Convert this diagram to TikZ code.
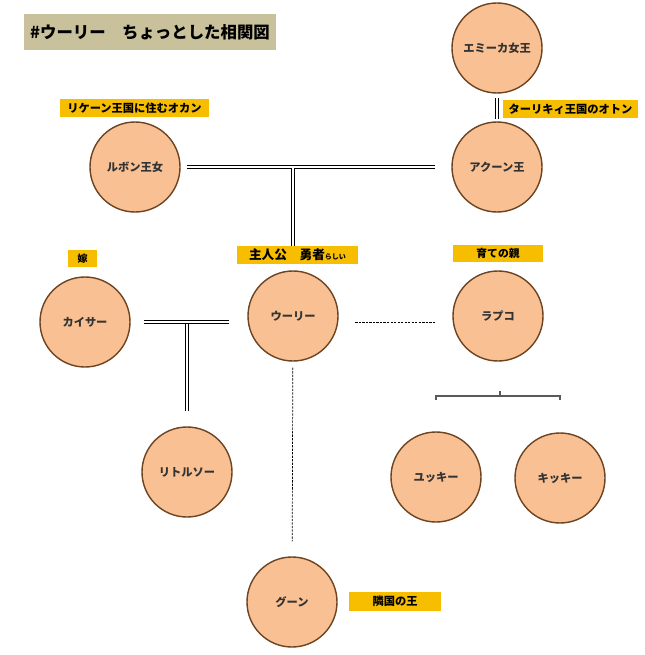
\documentclass[tikz,border=0pt]{standalone}
\usepackage{fontspec}
\setmainfont{Noto Sans CJK JP}
\usetikzlibrary{calc}
\definecolor{peach}{RGB}{249,193,147}
\definecolor{rim}{RGB}{108,68,34}
\definecolor{gold}{RGB}{247,190,0}
\definecolor{khaki}{RGB}{200,193,155}
\tikzset{psn/.style={circle,draw=rim,line width=1.2pt,fill=peach,minimum size=2.7cm,inner sep=0pt,font=\bfseries\fontsize{9.6}{11}\selectfont,text=black!80},tag/.style={fill=gold,inner sep=0pt,minimum height=0.54cm,font=\bfseries\fontsize{9.6}{11}\selectfont}}
\tikzset{dbl/.style={double,double distance=1.3pt,line width=0.75pt},dsh/.style={dash pattern=on 2pt off 1pt,line width=0.6pt},brk/.style={draw=black!65,line width=0.9pt}}
\begin{document}
\begin{tikzpicture}[x=0.03cm,y=-0.03cm]
  \useasboundingbox (0,0) rectangle (644,655);
  \node[fill=khaki,minimum width=7.56cm,minimum height=1.08cm,font=\bfseries\fontsize{14}{16}\selectfont] (ttl) at (150,32) {\#ウーリー　ちょっとした相関図};
  \node[psn] (emi) at (497,48) {エミーカ女王};
  \node[psn] (aku) at (497,167) {アクーン王};
  \node[psn] (rub) at (135,167) {ルボン王女};
  \node[psn] (kai) at (85,322) {カイサー};
  \node[psn] (uri) at (293,316) {ウーリー};
  \node[psn] (rap) at (498,316) {ラプコ};
  \node[psn] (lit) at (187,472) {リトルソー};
  \node[psn] (yuk) at (436,477) {ユッキー};\node[psn] (kik) at (560,478) {キッキー};
  \node[psn] (gun) at (292,602) {グーン};
  \node[tag,minimum width=4.47cm] (okan) at (134.5,108) {リケーン王国に住むオカン};
  \node[tag,minimum width=4.05cm] (oton) at (570.5,109.5) {ターリキィ王国のオトン};
  \node[tag,minimum width=0.87cm,minimum height=0.5cm,font=\bfseries\fontsize{8.5}{10}\selectfont] (yome) at (82.5,258.5) {嫁};
  \node[tag,minimum width=3.63cm,font=\bfseries\fontsize{10.8}{12}\selectfont] (hero) at (297.5,255) {主人公　勇者{\fontsize{6}{7}\selectfont らしい}};
  \node[tag,minimum width=2.7cm,minimum height=0.5cm,font=\bfseries\fontsize{9.2}{11}\selectfont] (sodate) at (498,253.5) {育ての親};
  \node[tag,minimum width=2.76cm,minimum height=0.57cm] (ringoku) at (395,601.5) {隣国の王};
  \coordinate (j1) at (293,168);\coordinate (j2) at (187,324);\coordinate (b) at (500,396);
  \draw[dbl,shorten <=0.12cm,shorten >=0.06cm] (emi) -- (aku);
  \draw[dbl,shorten <=0.18cm,shorten >=0.5cm] (rub) -- (aku);
  \draw[dbl] (j1) -- (j1 |- hero.north);
  \draw[dbl,shorten <=0.39cm,shorten >=1.92cm] (kai) -- (kai -| uri);
  \draw[dbl,shorten >=0.45cm] (j2) -- (lit);
  \draw[dsh,shorten <=0.5cm,shorten >=0.5cm] ([yshift=-0.2cm]uri.east) -- ([yshift=-0.2cm]rap.west);
  \draw[dsh,shorten <=0.18cm,shorten >=0.45cm] (uri) -- (gun);
  \draw[brk] (b) -- ++(0,-5);
  \draw[brk] (yuk |- b) ++(0,4) -- ++(0,-4) -- (kik |- b) -- ++(0,4);
\end{tikzpicture}
\end{document}
